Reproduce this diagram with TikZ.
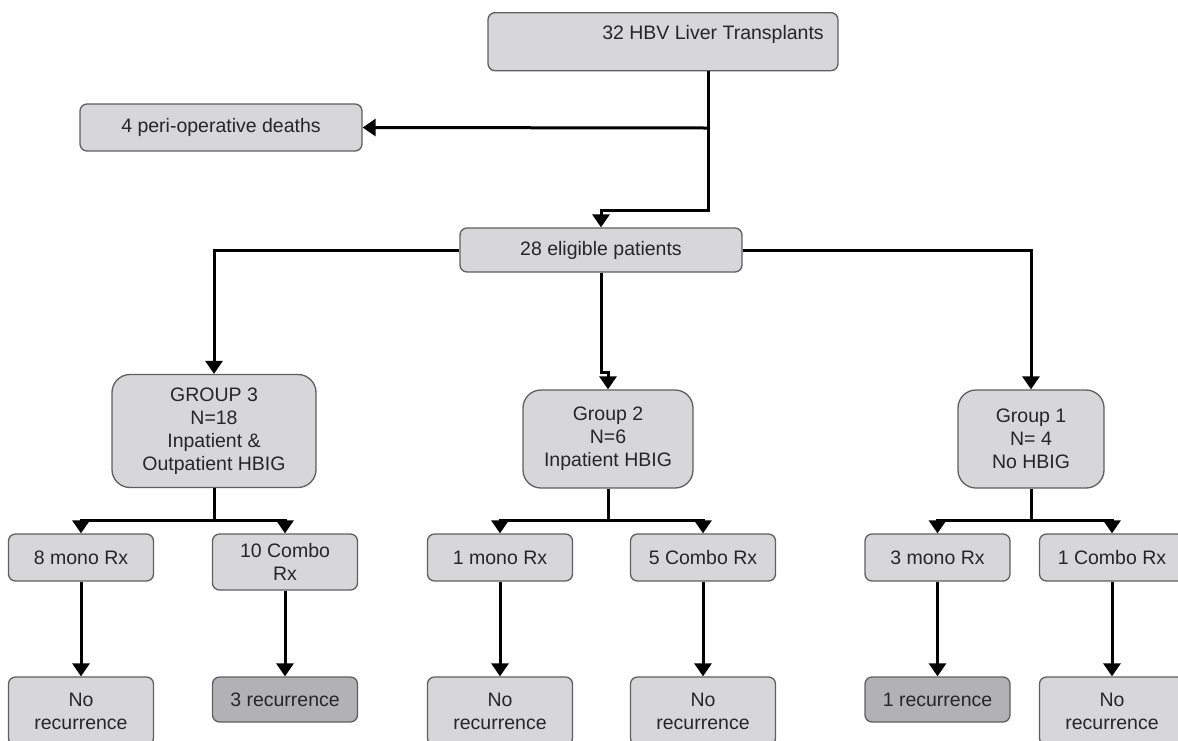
\documentclass[tikz,border=0pt]{standalone}
\usepackage{fontspec}
\setmainfont{Liberation Sans}
\usetikzlibrary{arrows.meta,positioning,calc}
\definecolor{boxfill}{RGB}{215,215,217}
\definecolor{boxdark}{RGB}{178,178,180}
\definecolor{boxline}{RGB}{95,95,95}
\tikzset{
  >={Triangle[width=17pt,length=13pt]},
  box/.style={draw=boxline, line width=1.3pt, fill=boxfill, rounded corners=7pt,
    align=center, inner sep=0pt, text=black!85, font=\fontsize{19.5}{23}\selectfont},
  darkbox/.style={box, fill=boxdark},
  groupbox/.style={box, rounded corners=18pt},
  link/.style={line width=3pt},
  arrow/.style={link, ->}
}

\begin{document}
\begin{tikzpicture}[x=1pt, y=-1pt,
  rxbox/.style={box, minimum width=145pt, minimum height=47pt},
  endbox/.style={box, minimum width=145pt, minimum height=68pt},
]
\useasboundingbox (0,0) rectangle (1178,740);

% --- Top of the flow ---
\node[box, anchor=north, minimum width=350pt, text height=27pt, text depth=31pt]
  (top) at (663,12) {\hspace*{100pt}32 HBV Liver Transplants};
\node[box, minimum width=282pt, minimum height=47pt] (death) at (221,127.5) {4 peri-operative deaths};
\node[box, minimum width=282pt, minimum height=44pt] (elig) at (601,250) {28 eligible patients};

\coordinate (trunk) at (708,128);
\coordinate (bend) at (708,210);
\draw[link] (top.south -| trunk) -- (trunk);
\draw[arrow] (trunk) -- (death.east);
\draw[arrow] (trunk) -- (bend) -| (elig.north);

% --- Groups ---
\node[groupbox, minimum width=204pt, minimum height=113pt] (g3) at (214,431)
  {GROUP 3\\N=18\\Inpatient \&\\Outpatient HBIG};
\node[groupbox, minimum width=170pt, minimum height=98pt] (g2) at (608,439)
  {Group 2\\N=6\\Inpatient HBIG};
\node[groupbox, minimum width=146pt, minimum height=98pt] (g1) at (1031,439)
  {Group 1\\N= 4\\No HBIG};

\draw[arrow] (elig.west) -| (g3.north);
\draw[arrow] (elig.east) -| (g1.north);
\draw[arrow] (elig.south) -- ++(0,100) -| (g2.north);

% --- Treatment ---
\node[rxbox] (m3) at (81,557.5) {8 mono Rx};
\node[rxbox, minimum height=56pt] (c3) at (285,562) {10 Combo\\Rx};
\node[rxbox] (m2) at (500,557.5) {1 mono Rx};
\node[rxbox] (c2) at (703,557.5) {5 Combo Rx};
\node[rxbox] (m1) at (937.5,557.5) {3 mono Rx};
\node[rxbox] (c1) at (1112,557.5) {1 Combo Rx};

\foreach \g/\m/\c in {g3/m3/c3, g2/m2/c2, g1/m1/c1} {
  \coordinate (j\g) at (\g.south |- {(0,520)});
  \draw[link] (\g.south) -- (j\g);
  \draw[arrow] (j\g) -| (\m.north);
  \draw[arrow] (j\g) -| (\c.north);
}

% --- Outcome ---
\node[endbox] (o3m) at (81,711) {No\\recurrence};
\node[darkbox, minimum width=145pt, minimum height=45pt] (o3c) at (285,699.5) {3 recurrence};
\node[endbox] (o2m) at (500,711) {No\\recurrence};
\node[endbox] (o2c) at (703,711) {No\\recurrence};
\node[darkbox, minimum width=145pt, minimum height=45pt] (o1m) at (937.5,699.5) {1 recurrence};
\node[endbox] (o1c) at (1112,711) {No\\recurrence};

\foreach \a/\b in {m3/o3m, c3/o3c, m2/o2m, c2/o2c, m1/o1m, c1/o1c}
  \draw[arrow] (\a.south) -- (\b.north);

\end{tikzpicture}
\end{document}
